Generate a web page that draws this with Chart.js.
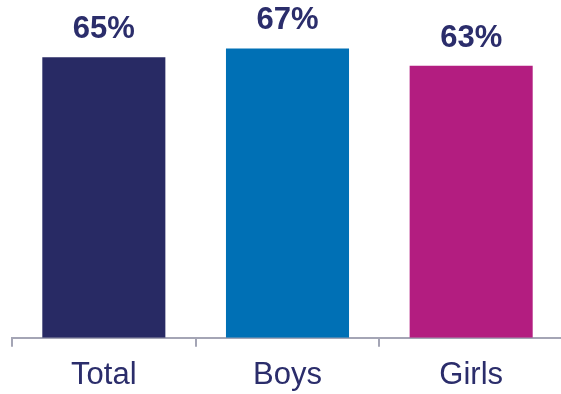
<!DOCTYPE html>
<html>
<head>
<meta charset="utf-8">
<script src="https://cdn.jsdelivr.net/npm/chart.js@4/dist/chart.umd.min.js"></script>
<style>
  html, body { margin: 0; padding: 0; background: #fff; overflow: hidden; height: 394px; }
  #wrap { width: 564px; height: 406px; }
</style>
</head>
<body>
<div id="wrap"><canvas id="barcanvas"></canvas></div>
<script>
var groups = ["Total", "Boys", "Girls"];
var shares = [65, 67, 63];
var barColors = ["#282a64", "#0070b5", "#b31d80"];
var textColor = "#2b2d6b";

// percent labels above each bar
var valueLabels = {
    id: "valueLabels",
    afterDatasetsDraw: function (chart) {
        var ctx = chart.ctx;
        var meta = chart.getDatasetMeta(0);
        ctx.save();
        ctx.font = "bold 31px 'Liberation Sans', Arial, sans-serif";
        ctx.fillStyle = textColor;
        ctx.textAlign = "center";
        ctx.textBaseline = "alphabetic";
        meta.data.forEach(function (bar, i) {
            ctx.fillText(shares[i] + "%", bar.x, bar.y - 19);
        });
        ctx.restore();
    }
};

var ctx = document.getElementById("barcanvas").getContext("2d");
var chart = new Chart(ctx, {
    type: "bar",
    data: {
        labels: groups,
        datasets: [{
            data: shares,
            backgroundColor: barColors,
            borderWidth: 0,
            categoryPercentage: 1,
            barPercentage: 0.67
        }]
    },
    options: {
        responsive: true,
        maintainAspectRatio: false,
        animation: false,
        layout: { padding: { left: 12, right: 1, top: 1, bottom: 2 } },
        plugins: {
            legend: { display: false },
            tooltip: { enabled: false }
        },
        scales: {
            x: {
                grid: {
                    offset: true,
                    drawOnChartArea: false,
                    drawTicks: true,
                    tickLength: 9,
                    color: "#a4a5b5",
                    lineWidth: 2
                },
                border: { display: true, color: "#a4a5b5", width: 2 },
                ticks: {
                    color: textColor,
                    padding: 10,
                    font: { family: "'Liberation Sans', Arial, sans-serif", size: 31 }
                }
            },
            y: {
                display: false,
                min: 0,
                max: 78
            }
        }
    },
    plugins: [valueLabels]
});
</script>
</body>
</html>
